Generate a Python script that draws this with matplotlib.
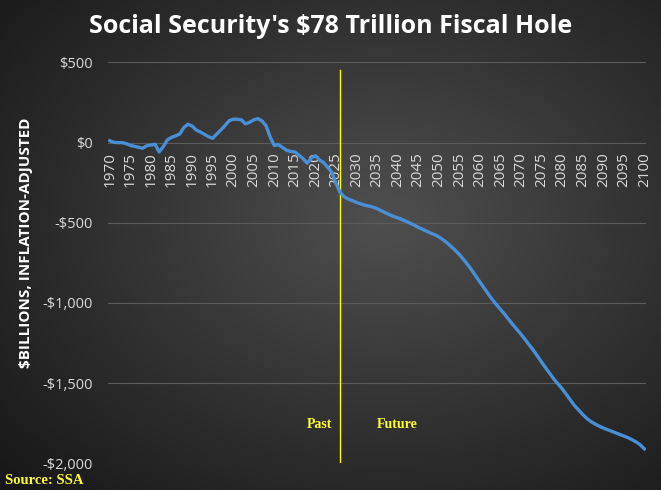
import numpy as np
import matplotlib
matplotlib.use('Agg')
import matplotlib.pyplot as plt
from matplotlib.ticker import FuncFormatter

# annual balance, $billions inflation-adjusted
years = list(range(1970, 2101))
past = [12, 2, 0, 0, -6, -17, -23, -29, -35, -19,
        -15, -10, -58, -25, 17, 33, 42, 54, 94, 115,
        104, 79, 67, 52, 37, 27, 54, 79, 106, 137,
        146, 146, 142, 117, 127, 142, 150, 135, 105, 35,
        -18, -12, -30, -48, -55, -58, -78, -100, -128, -95,
        -82, -108, -125, -155, -185, -255]
future = [-310, -338, -352, -362, -373, -382, -390, -396, -402, -412,
          -425, -437, -449, -460, -469, -479, -490, -502, -514, -528,
          -540, -552, -564, -574, -588, -605, -625, -648, -672, -698,
          -728, -760, -795, -832, -868, -905, -943, -978, -1010, -1040,
          -1070, -1103, -1135, -1165, -1195, -1228, -1262, -1295, -1332, -1370,
          -1405, -1440, -1475, -1505, -1535, -1570, -1605, -1640, -1668, -1695,
          -1720, -1740, -1755, -1768, -1780, -1790, -1800, -1810, -1820, -1830,
          -1840, -1853, -1867, -1885, -1910]
values = past + future
split_year = 2026
y_ticks = [500, 0, -500, -1000, -1500, -2000]
x_ticks = list(range(1970, 2101, 5))


def money(v, pos=None):
    v = int(round(v))
    s = '${:,}'.format(abs(v))
    return '-' + s if v < 0 else s


fig = plt.figure(figsize=(6.61, 4.90), dpi=100)

# dark radial background
bg = fig.add_axes([0, 0, 1, 1], zorder=-10)
gx, gy = np.meshgrid(np.linspace(0, 1, 400), np.linspace(0, 1, 300))
r = np.sqrt(((gx - 0.58) / 0.75) ** 2 + ((gy - 0.45) / 0.75) ** 2)
shade = np.clip(0.31 - 0.21 * r, 0.09, 0.31)
bg.imshow(np.dstack([shade, shade, shade]), aspect='auto', extent=[0, 1, 0, 1])
bg.axis('off')

ax = fig.add_axes([0.163, 0.0545, 0.815, 0.818])
ax.patch.set_alpha(0)
ax.plot(years, values, color='#4a8fd6', lw=2.4, solid_joinstyle='round', zorder=3)
ax.axvline(split_year, ymin=0, ymax=0.98, color='#ffff00', lw=1, zorder=2)

ax.set_xlim(1969.5, 2100.5)
ax.set_ylim(-2000, 500)
ax.set_yticks(y_ticks)
ax.yaxis.set_major_formatter(FuncFormatter(money))
ax.set_xticks(x_ticks)
ax.spines['bottom'].set_position(('data', 0))
for s in ax.spines.values():
    s.set_visible(False)
ax.tick_params(axis='both', length=0, colors='#d9d9d9', labelsize=10.5)
ax.tick_params(axis='x', pad=7, labelrotation=90, labelsize=11)
ax.tick_params(axis='y', pad=11)
for lab in ax.get_xticklabels() + ax.get_yticklabels():
    lab.set_fontfamily('Open Sans')
ax.yaxis.grid(True, color='#5c5c5c', lw=0.8)
ax.set_axisbelow(True)

ax.text(2021, -1760, 'Past', color='#ffff33', fontsize=10, fontweight='bold',
        family='Liberation Serif', ha='center', va='center')
ax.text(2040, -1755, 'Future', color='#ffff33', fontsize=10, fontweight='bold',
        family='Liberation Serif', ha='center', va='center')

fig.text(0.5, 0.945, "Social Security's $78 Trillion Fiscal Hole", color='white',
         fontsize=18, fontweight='bold', family='Open Sans', ha='center', va='center')
fig.text(0.04, 0.505, '$BILLIONS, INFLATION-ADJUSTED', color='white', fontsize=11,
         fontweight='bold', family='Open Sans', rotation=90, ha='center', va='center')
fig.text(0.008, 0.02, 'Source: SSA', color='#ffff33', fontsize=10.5, fontweight='bold',
         family='Liberation Serif', ha='left', va='center')

fig.savefig('out.png', dpi=100)
